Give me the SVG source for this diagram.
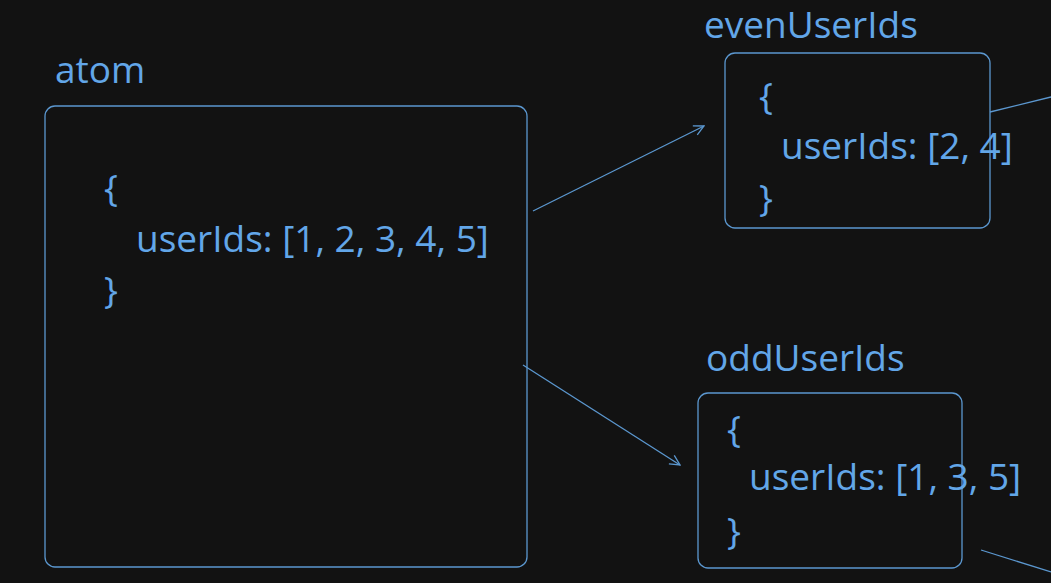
<svg xmlns="http://www.w3.org/2000/svg" width="1051" height="583" viewBox="0 0 1051 583">
<defs>
<style>
.box{fill:none;stroke:#5b97cf;stroke-width:1.3}
.t{font-family:"Open Sans",Lato,sans-serif;fill:#62a6e8;font-size:37px;font-weight:500}
.c{fill:none;stroke:#5b97cf;stroke-width:1.3}
</style>
<marker id="ah" viewBox="0 0 12 12" refX="11" refY="6" markerWidth="12" markerHeight="12" markerUnits="userSpaceOnUse" orient="auto">
<path d="M1,1 L11,6 L1,11" fill="none" stroke="#5b97cf" stroke-width="1.3"/>
</marker>
</defs>
<rect width="1051" height="583" fill="#121212"/>
<g id="atom">
<text class="t" x="55" y="83">atom</text>
<rect class="box" x="45" y="106" width="482" height="461" rx="10"/>
<text class="t" x="104" y="201">{</text>
<text class="t" x="136" y="252">userIds: [1, 2, 3, 4, 5]</text>
<text class="t" x="104" y="303">}</text>
</g>
<g id="evenUserIds">
<text class="t" x="704" y="38">evenUserIds</text>
<rect class="box" x="725" y="53" width="265" height="175" rx="10"/>
<text class="t" x="759" y="109">{</text>
<text class="t" x="781" y="159">userIds: [2, 4]</text>
<text class="t" x="759" y="211">}</text>
</g>
<g id="oddUserIds">
<text class="t" x="706" y="371">oddUserIds</text>
<rect class="box" x="698" y="393" width="264" height="175" rx="10"/>
<text class="t" x="727" y="442">{</text>
<text class="t" x="749" y="490">userIds: [1, 3, 5]</text>
<text class="t" x="727" y="544">}</text>
</g>
<g id="connectors">
<line class="c" x1="533" y1="211" x2="704" y2="126" marker-end="url(#ah)"/>
<line class="c" x1="523" y1="365" x2="680" y2="465" marker-end="url(#ah)"/>
<line class="c" x1="990" y1="112" x2="1051" y2="97"/>
<line class="c" x1="981" y1="550" x2="1051" y2="572"/>
</g>
</svg>
